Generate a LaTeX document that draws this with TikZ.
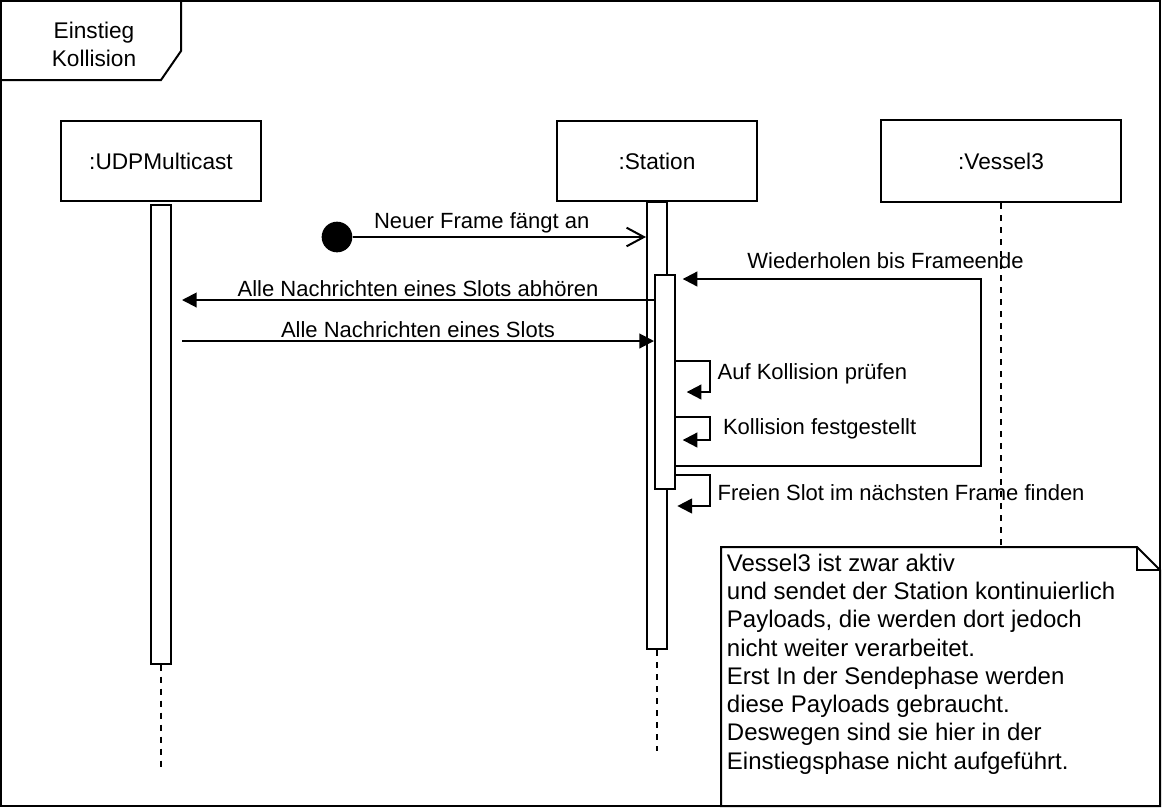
\documentclass[tikz,border=0pt]{standalone}
\usepackage{fontspec}
\setmainfont{Liberation Sans}
\usetikzlibrary{arrows.meta,positioning}

\tikzset{
	head/.style={draw, line width=1.5pt, minimum width=150pt, minimum height=60pt, font=\fontsize{17}{21}\selectfont},
	act/.style={draw, fill=white, line width=1.5pt, minimum width=15pt, inner sep=0pt},
	life/.style={line width=1.5pt, dash pattern=on 4.5pt off 4.5pt},
	msg/.style={line width=1.5pt, -{Triangle[length=11pt,width=11pt]}},
	msgopen/.style={line width=1.5pt, -{Straight Barb[length=13pt,width=14pt]}},
	lbl/.style={font=\fontsize{16.5}{20}\selectfont, inner sep=2pt},
	notetext/.style={font=\fontsize{18}{21.2}\selectfont, align=left, inner sep=2pt}
}

\begin{document}
\begin{tikzpicture}[x=0.75pt, y=-0.75pt]
					\useasboundingbox (0,0) rectangle (1162,808);
					\draw[line width=1.5pt] (1,1) rectangle (1160,806);
					\draw[line width=1.5pt] (1,80) -- (161,80) -- (181,51) -- (181,1);
					\node[align=center, font=\fontsize{17}{21}\selectfont] (title) at (94,44) {Einstieg\\Kollision};

					\node[head] (udp) at (161,161)             {:UDPMulticast};
					\node[head] (sta) [right=220.5pt of udp]   {:Station};
					\node[head, minimum width=180pt, minimum height=62pt] (ves) [right=91.5pt of sta] {:Vessel3};

					\node[act, minimum height=344pt]   (a1) [below=1.5pt of udp] {};
					\node[act, minimum height=335pt]   (a2) [below=-0.5pt of sta] {};
					\node[act, minimum height=160.5pt] (a3) at (665,382)         {};

					\coordinate (n) at (721,547);
					\draw[life] (a1.south) -- ++(0,106);
					\draw[life] (a2.south) -- ++(0,101);
					\draw[life] (ves.south) -- (ves.south |- n);

					\draw[line width=1.5pt] (n) -- (1137,547) -- (1160,570) -- (1160,806) -- (721,806) -- cycle;
					\draw[line width=1.5pt] (1137,547) -- (1137,570) -- (1160,570);
					\node[notetext, anchor=north west] (note) at (724,551) {Vessel3 ist zwar aktiv\\und sendet der Station kontinuierlich\\Payloads, die werden dort jedoch\\nicht weiter verarbeitet.\\Erst In der Sendephase werden\\diese Payloads gebraucht.\\Deswegen sind sie hier in der\\Einstiegsphase nicht aufgeführt.};

					\node[circle, fill, inner sep=0pt, minimum size=23pt] (start) at (337,237) {};

					\draw[msgopen] (start) -- (a2.west |- start) node[lbl, pos=0.44, above] {Neuer Frame fängt an};
					\draw[msg] (a3.west |- 0,300) -- ([xshift=7.5pt]a1.east |- 0,300) node[lbl, midway, above] {Alle Nachrichten eines Slots abhören};
					\draw[msg] ([xshift=7.5pt]a1.east |- 0,341) -- (a3.west |- 0,341) node[lbl, midway, above] {Alle Nachrichten eines Slots};

					\draw[msg] (a3.east |- 0,466) -| (981,279) -- node[lbl, pos=0.32, above=5pt] {Wiederholen bis Frameende} ([xshift=5pt]a3.east |- 0,279);

					\draw[msg] (a3.east |- 0,361) -- ++(34,0) |- node[lbl, pos=0.2, right=3pt] {Auf Kollision prüfen} ([xshift=8pt]a3.east |- 0,392);
					\draw[msg] (a3.east |- 0,417) -- ++(34,0) |- node[lbl, pos=0.25, right=7pt] {Kollision festgestellt} ([xshift=5pt]a3.east |- 0,440);
					\draw[msg] (a3.east |- 0,475) -- ++(34,0) |- node[lbl, pos=0.29, right=3pt] {Freien Slot im nächsten Frame finden} ([xshift=1pt]a3.east |- 0,506);
				\end{tikzpicture}
\end{document}
